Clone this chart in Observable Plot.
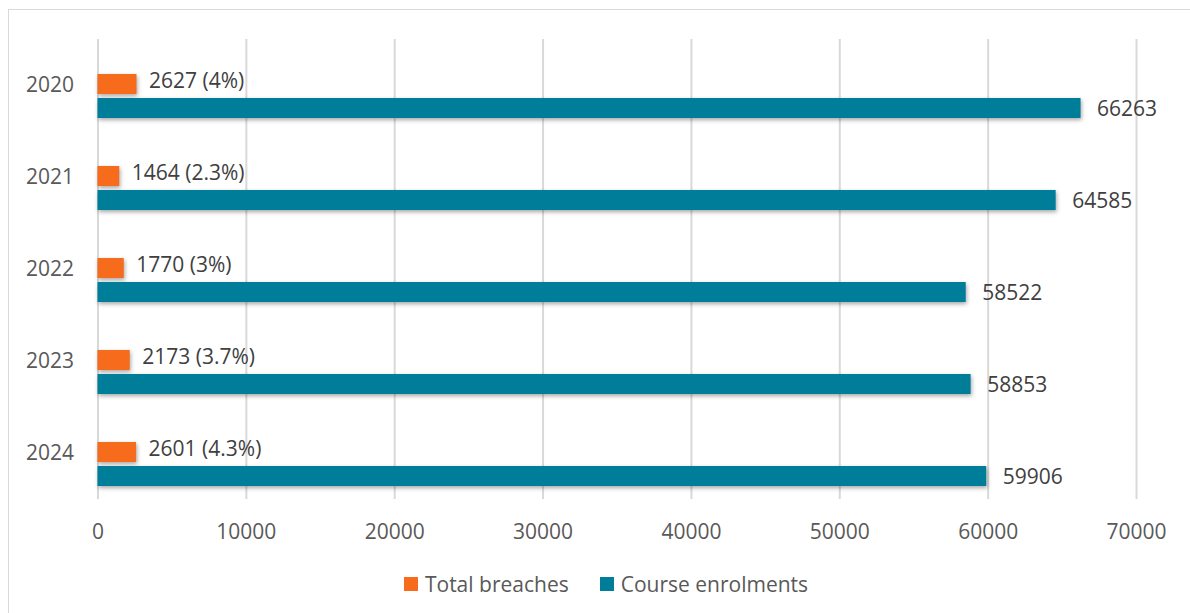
<!DOCTYPE html>
<html>
<head>
<meta charset="utf-8">
<script src="https://cdn.jsdelivr.net/npm/d3@7"></script>
<script src="https://cdn.jsdelivr.net/npm/@observablehq/plot@0.6"></script>
<style>
  html, body { margin: 0; padding: 0; background: #fff; }
  body { width: 1190px; height: 613px; overflow: hidden; position: relative; font-family: "Open Sans", sans-serif; }
  #frame { position: absolute; left: 8px; top: 9px; width: 1200px; height: 620px; border: 1px solid #d9d9d9; box-sizing: border-box; }
  #chart { position: absolute; left: 0; top: 0; }
  #chart svg g[aria-label="bar"] { filter: drop-shadow(1px 2px 2px rgba(0,0,0,0.35)); }
  #legend { position: absolute; top: 569px; left: 11px; width: 1190px; display: flex; justify-content: center; font-size: 21px; color: #595959; line-height: 30px; }
  .item { display: flex; align-items: center; }
  .item + .item { margin-left: 31px; }
  .sw { width: 14px; height: 14px; margin-right: 7px; }
</style>
</head>
<body>
<div id="frame"></div>
<div id="chart"></div>
<div id="legend"></div>
<script>
const years = ["2020", "2021", "2022", "2023", "2024"];
const breaches = [2627, 1464, 1770, 2173, 2601];
const breachPct = ["4%", "2.3%", "3%", "3.7%", "4.3%"];
const enrolments = [66263, 64585, 58522, 58853, 59906];
const seriesNames = ["Total breaches", "Course enrolments"];
const seriesColors = ["#F76B1C", "#007E99"];
const xTicks = [0, 10000, 20000, 30000, 40000, 50000, 60000, 70000];

const breachRows = years.map((y, i) => ({year: y, value: breaches[i], label: `${breaches[i]} (${breachPct[i]})`}));
const enrolRows = years.map((y, i) => ({year: y, value: enrolments[i], label: `${enrolments[i]}`}));

const chart = Plot.plot({
  width: 1190,
  height: 555,
  marginLeft: 97.5,
  marginRight: 54,
  marginTop: 39,
  marginBottom: 56,
  style: {fontFamily: "Open Sans, sans-serif", fontSize: "21px", color: "#595959", background: "transparent"},
  x: {domain: [0, 70000], ticks: xTicks, tickFormat: d => String(d), tickSize: 0, tickPadding: 25, label: null, grid: false},
  y: {domain: years, padding: 0, tickSize: 0, tickPadding: 24, label: null},
  marks: [
    Plot.ruleX(xTicks, {stroke: "#d9d9d9", strokeWidth: 2}),
    Plot.barX(breachRows, {x: "value", y: "year", fill: seriesColors[0], insetTop: 36, insetBottom: 36, dy: -1}),
    Plot.barX(enrolRows, {x: "value", y: "year", fill: seriesColors[1], insetTop: 36, insetBottom: 36, dy: 23}),
    Plot.text(breachRows, {x: "value", y: "year", text: "label", textAnchor: "start", dx: 12, dy: -4, fill: "#404040", fontSize: 21}),
    Plot.text(enrolRows, {x: "value", y: "year", text: "label", textAnchor: "start", dx: 16, dy: 24, fill: "#404040", fontSize: 21})
  ]
});
document.getElementById("chart").appendChild(chart);

const legend = document.getElementById("legend");
seriesNames.forEach((name, i) => {
  const item = document.createElement("div");
  item.className = "item";
  const sw = document.createElement("div");
  sw.className = "sw";
  sw.style.background = seriesColors[i];
  const t = document.createElement("span");
  t.textContent = name;
  item.appendChild(sw);
  item.appendChild(t);
  legend.appendChild(item);
});
</script>
</body>
</html>
